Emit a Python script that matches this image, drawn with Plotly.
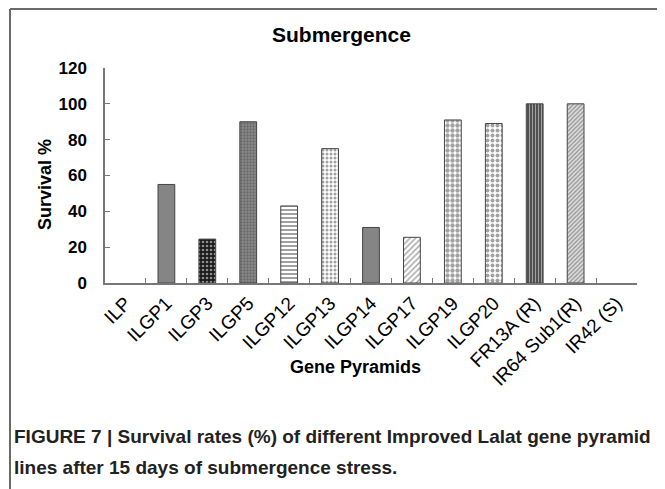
import plotly.graph_objects as go

categories = ["ILP", "ILGP1", "ILGP3", "ILGP5", "ILGP12", "ILGP13", "ILGP14",
              "ILGP17", "ILGP19", "ILGP20", "FR13A (R)", "IR64 Sub1(R)", "IR42 (S)"]
survival = [0, 55, 24.5, 90, 43, 75, 31, 25.5, 91, 89, 100, 100, 0]
y_ticks = [0, 20, 40, 60, 80, 100, 120]

# per-bar fill patterns (style)
shapes_pat = ["", "", ".", ".", "-", ".", "", "/", ".", ".", "|", "/", ""]
fg = ["#000", "#000", "#ffffff", "#3a3a3a", "#000000", "#4a4a4a", "#000", "#555555",
      "#000000", "#9a9a9a", "#2a2a2a", "#6a6a6a", "#000"]
bg = ["#ffffff", "#858585", "#1a1a1a", "#8a8a8a", "#ffffff", "#ffffff", "#858585",
      "#ffffff", "#ffffff", "#ffffff", "#474747", "#dddddd", "#ffffff"]
psize = [4, 4, 4, 3, 4, 4, 4, 4, 5, 5, 3, 3, 4]
psol = [0.3, 0.3, 0.35, 0.45, 0.5, 0.45, 0.3, 0.35, 0.6, 0.5, 0.4, 0.4, 0.3]

OFF = 8  # page body margin
W, H = 665 - OFF, 489 - OFF
L, R, T, B = 105 - OFF, 28, 68 - OFF, 206
pw, ph = W - L - R, H - T - B


def px(x):
    return (x - OFF - L) / pw


def py(y):
    return (H - B - (y - OFF)) / ph


line_w = [1 if v > 0 else 0 for v in survival]

fig = go.Figure()
fig.add_trace(go.Bar(
    x=categories, y=survival,
    marker=dict(
        color=bg,
        line=dict(color="#444444", width=line_w),
        pattern=dict(shape=shapes_pat, fgcolor=fg, bgcolor=bg, size=psize,
                     solidity=psol, fillmode="overlay"),
    ),
    width=0.41,
))

font = "Liberation Sans, Arial, sans-serif"
bcol = "#6a6a6a"

fig.update_layout(
    width=W, height=H,
    margin=dict(l=L, r=R, t=T, b=B, pad=0),
    paper_bgcolor="white", plot_bgcolor="white",
    showlegend=False,
    font=dict(family=font, color="#000"),
    xaxis=dict(
        type="category",
        showline=True, linecolor="#777777", linewidth=1.5,
        ticks="inside", tickson="boundaries", ticklen=5, tickcolor="#777777",
        tickangle=-45, tickfont=dict(size=19, family=font),
        showgrid=False, zeroline=False,
    ),
    yaxis=dict(
        range=[0, 120], tickvals=y_ticks,
        showline=True, linecolor="#777777", linewidth=1.5,
        ticks="inside", ticklen=5, tickcolor="#777777",
        tickfont=dict(size=17, family=font, weight="bold"),
        ticklabelstandoff=13,
        showgrid=False, zeroline=False,
    ),
    shapes=[
        dict(type="line", xref="paper", yref="paper", x0=px(10), x1=px(10), y0=py(9), y1=py(495),
             line=dict(color=bcol, width=2)),
        dict(type="line", xref="paper", yref="paper", x0=px(10), x1=px(663), y0=py(9), y1=py(9),
             line=dict(color=bcol, width=2)),
        dict(type="line", xref="paper", yref="paper", x0=px(663), x1=px(663), y0=py(9), y1=py(495),
             line=dict(color=bcol, width=2)),
    ],
    annotations=[
        dict(text="<b>Submergence</b>", x=px(341), y=py(35), xref="paper", yref="paper",
             showarrow=False, font=dict(size=21, family=font), xanchor="center", yanchor="middle"),
        dict(text="<b>Survival %</b>", x=px(45), y=py(185), xref="paper", yref="paper",
             showarrow=False, textangle=-90, font=dict(size=18, family=font, weight=900),
             xanchor="center", yanchor="middle"),
        dict(text="<b>Gene Pyramids</b>", x=px(355), y=py(367), xref="paper", yref="paper",
             showarrow=False, font=dict(size=18, family=font, weight=900),
             xanchor="center", yanchor="middle"),
        dict(text="<b>FIGURE 7 | Survival rates (%) of different Improved Lalat gene pyramid</b>",
             x=px(12), y=py(437), xref="paper", yref="paper", showarrow=False,
             font=dict(size=19, family=font, color="#222"),
             xanchor="left", yanchor="middle"),
        dict(text="<b>lines after 15 days of submergence stress.</b>",
             x=px(12), y=py(467), xref="paper", yref="paper", showarrow=False,
             font=dict(size=19, family=font, color="#222"),
             xanchor="left", yanchor="middle"),
    ],
)

fig.write_html("out.html")
